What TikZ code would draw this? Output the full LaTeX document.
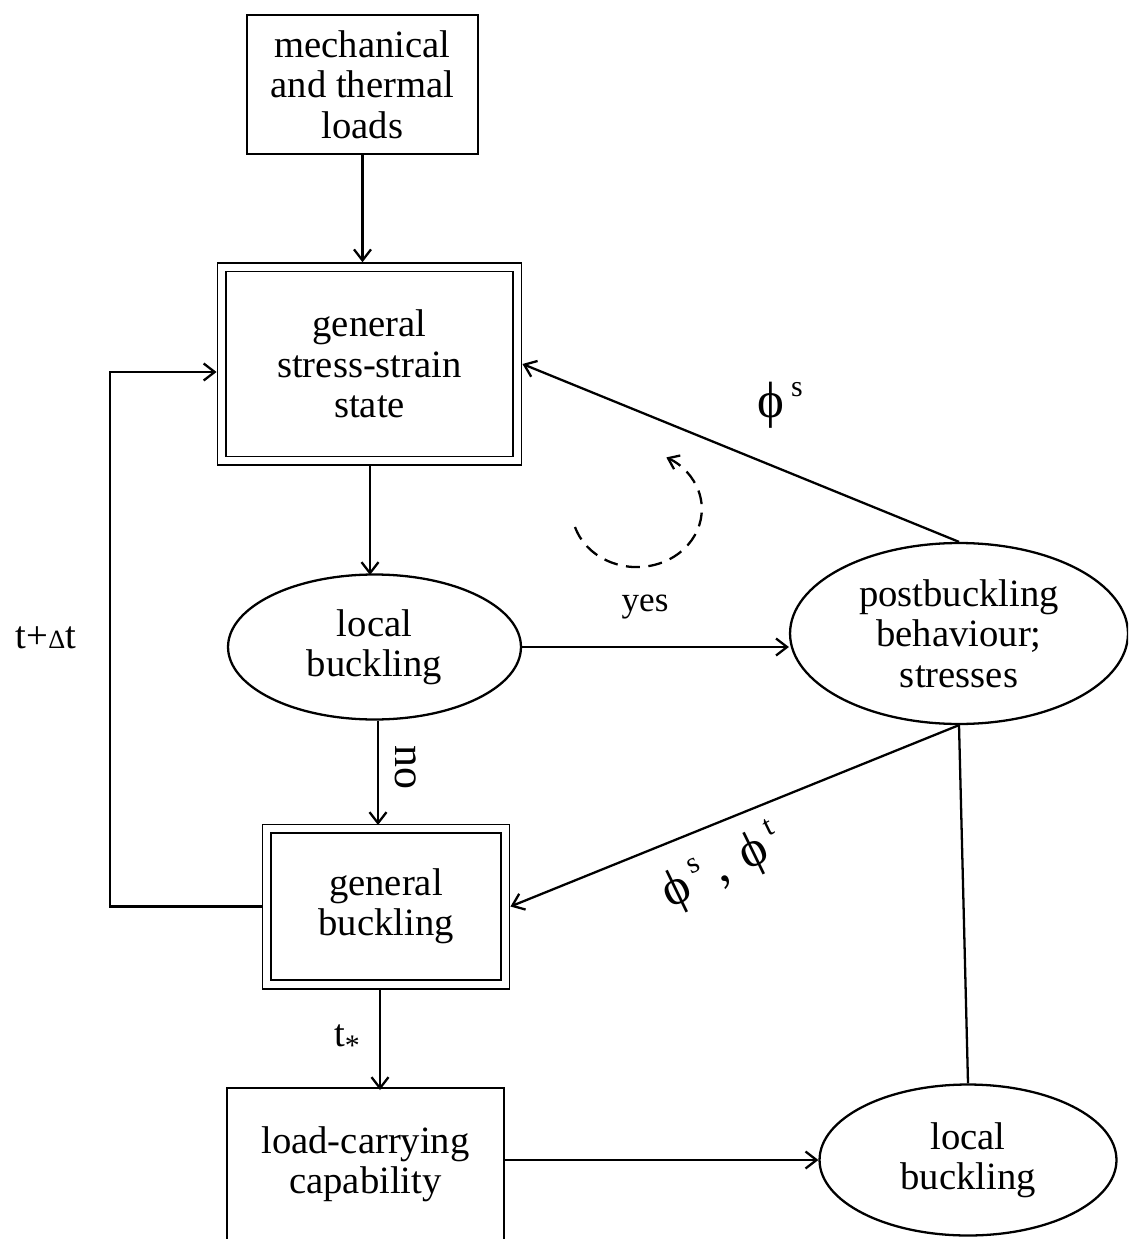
\documentclass[tikz,border=0pt]{standalone}
\usepackage{fontspec}
\setmainfont{Liberation Serif}
\usetikzlibrary{shapes.geometric,arrows.meta}
\newcommand{\supx}[1]{\hspace{4pt}\raisebox{12pt}{\fontsize{17}{17}\selectfont #1}}
\begin{document}
\begin{tikzpicture}[x=0.02cm,y=-0.02cm,
  every node/.style={font=\fontsize{22}{23}\selectfont, align=center, inner sep=0pt},
  conn/.style={line width=1.3pt},
  arr/.style={line width=1.3pt, -{Straight Barb[length=2.2mm,width=3.4mm]}},
  box/.style={draw, rectangle, line width=1.3pt},
  dbox/.style={draw, rectangle, double, double distance=0.13cm, line width=1pt, outer sep=0.1cm},
  oval/.style={draw, ellipse, line width=1.3pt},
  lab/.style={font=\fontsize{20}{23}\selectfont},
  phifont/.style={font=\fontsize{29}{29}\selectfont}]
\useasboundingbox (0,0) rectangle (1128,1239);
\clip (0,0) rectangle (1128,1239);

% nodes
\node[box, minimum width=4.62cm, minimum height=2.78cm] (b1) at (362.5,84.5) {mechanical\\and thermal\\loads};
\node[dbox, minimum width=5.92cm, minimum height=3.87cm] (b2) at (369.5,364) {general\\stress-strain\\state};
\node[oval, minimum width=5.86cm, minimum height=2.9cm] (e1) at (374.5,647) {local\\buckling};
\node[oval, minimum width=6.76cm, minimum height=3.62cm] (e2) at (959,633.5) {postbuckling\\behaviour;\\stresses};
\node[dbox, minimum width=4.78cm, minimum height=3.12cm] (b3) at (386,906.5) {general\\buckling};
\node[box, minimum width=5.54cm, minimum height=3.04cm] (b4) at (365.5,1164) {load-carrying\\capability};
\node[oval, minimum width=5.94cm, minimum height=3.02cm] (e3) at (968,1160) {local\\buckling};

\coordinate (lp) at (110,372);

% connectors
\draw[arr] (b1.south) -- (b1.south |- b2.north);
\draw[arr] (b2.south -| 370,0) -- (370,575);
\draw[arr] (e1.east) -- (e2.west |- e1.east);
\draw[arr] (e2.north) -- (b2.east);
\draw[arr] (e1.south -| 378,0) -- (378,825);
\draw[arr] (e2.south) -- (b3.east);
\draw[conn] (e2.south) -- (e3.north);
\draw[arr] (b3.south -| 380,0) -- (380,1090);
\draw[arr] (b4.east |- e3.west) -- (e3.west);
\draw[arr] (b3.west) -| (lp) -- (lp -| b2.west);

% dashed loop arrow
\draw[line width=1.3pt, dash pattern=on 0.28cm off 0.17cm, -{Straight Barb[length=2mm,width=3mm]}]
  (575,527) arc[start angle=198, end angle=423, x radius=1.3cm, y radius=1.16cm];

% labels
\node[lab] (lyes) at (645,607) {yes};
\node[rotate=-90, font=\fontsize{25}{25}\selectfont] (lno) at (406,767) {no};
\node (ldt) at (46,638) {t+{\fontsize{15}{15}\selectfont Δ}t};
\node (lts) at (347,1040) {t\raisebox{-5pt}{\fontsize{17}{17}\selectfont *}};
\node[phifont] (lphis) at (780,405) {ϕ\supx{s}};
\node[phifont, rotate=26] (lphist) at (722,868) {ϕ\supx{s}\hspace{6pt},\hspace{10pt}ϕ\supx{t}};
\end{tikzpicture}
\end{document}
